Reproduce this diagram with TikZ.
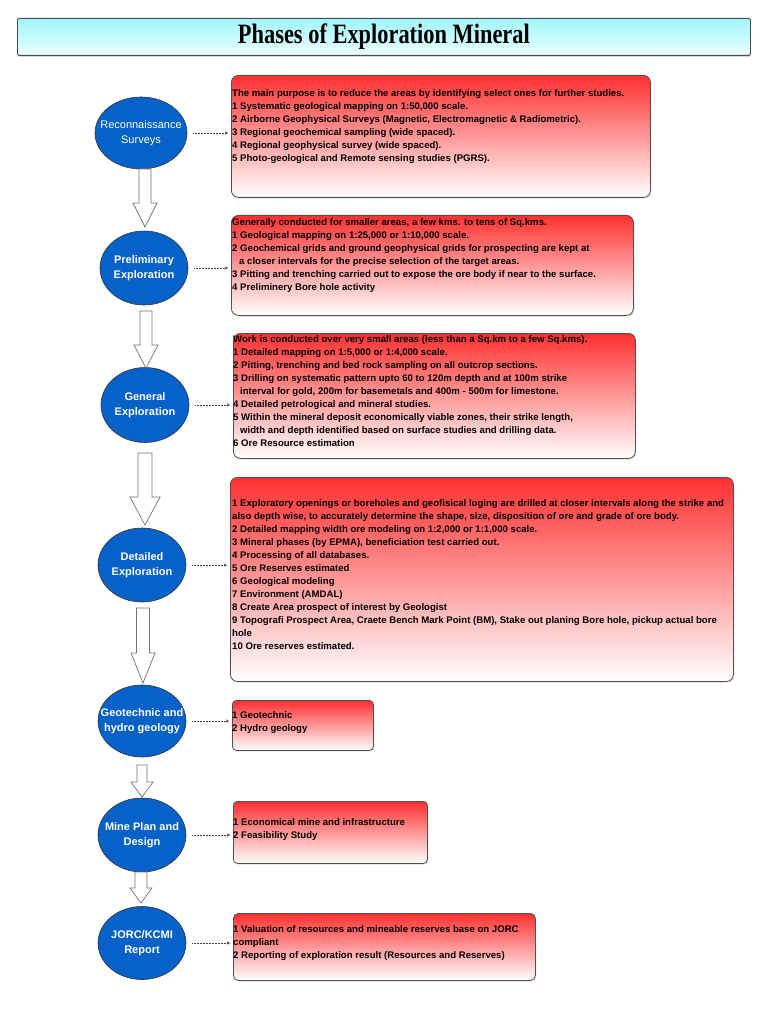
\documentclass[tikz,border=0pt]{standalone}
\usepackage{fontspec}
\setmainfont{Liberation Sans}
\newfontfamily\ttlfont{Liberation Serif}
\usetikzlibrary{shapes.geometric,shadows,calc,arrows.meta}
\definecolor{ellblue}{RGB}{6,98,200}
\definecolor{boxred}{RGB}{255,48,48}
\definecolor{titlecyan}{RGB}{160,246,252}
\definecolor{titlelight}{RGB}{236,255,255}
\definecolor{bordergray}{RGB}{80,80,80}
\newcommand\blkarrow[5]{% start, tip, shaft half width, head half width, head length
  \draw[blockarr] let \p1=(#1), \p2=(#2) in
  (\x2-#3pt,\y1) -- (\x2-#3pt,\y2+#5pt) -- (\x2-#4pt,\y2+#5pt) -- (\x2,\y2)
  -- (\x2+#4pt,\y2+#5pt) -- (\x2+#3pt,\y2+#5pt) -- (\x2+#3pt,\y1) -- cycle;}
\begin{document}
\begin{tikzpicture}[x=1pt,y=-1pt,
  ellip/.style={ellipse, fill=ellblue, draw=black!80, line width=0.6pt, inner sep=0pt},
  elab/.style={text=white, font=\fontsize{11}{15.5}\selectfont\bfseries, align=center, inner sep=0pt},
  rbox/.style={draw=bordergray, line width=0.8pt, rounded corners=7pt, top color=boxred, bottom color=white,
    anchor=north west, inner sep=0pt, drop shadow={opacity=0.25, shadow xshift=1pt, shadow yshift=-1.2pt}},
  btext/.style={anchor=north west, inner sep=0pt, align=left, font=\fontsize{9.6}{13}\selectfont\bfseries},
  dotarr/.style={densely dotted, draw=black!75, line width=0.5pt, -{Stealth[length=3pt,width=3pt]}},
  blockarr/.style={draw=black!55, fill=white, line width=0.7pt, line join=miter}
]
\useasboundingbox (0,0) rectangle (768,1024);
\fill[white] (0,0) rectangle (768,1024);

% title
\node[draw=black!70, line width=0.8pt, rounded corners=1.5pt, top color=titlecyan, bottom color=titlelight,
  minimum width=733pt, minimum height=37pt, anchor=north west, inner sep=0pt,
  drop shadow={opacity=0.3, shadow xshift=0.5pt, shadow yshift=-1.5pt}] (title) at (17,18)
  {\scalebox{0.8}[1]{\ttlfont\bfseries\fontsize{28}{30}\selectfont Phases of Exploration Mineral}};

% ellipses
\node[ellip, minimum width=92pt, minimum height=72pt] (e1) at (141,133) {};
\node[ellip, minimum width=88pt, minimum height=74pt] (e2) at (144,268) {};
\node[ellip, minimum width=88pt, minimum height=75pt] (e3) at (145,405) {};
\node[ellip, minimum width=88pt, minimum height=74pt] (e4) at (142,565) {};
\node[ellip, minimum width=88pt, minimum height=72pt] (e5) at (142,721) {};
\node[ellip, minimum width=88pt, minimum height=74pt] (e6) at (142,835) {};
\node[ellip, minimum width=88pt, minimum height=73pt] (e7) at (142,943) {};

\node[elab, font=\fontsize{11}{15.5}\selectfont\mdseries] (l1) at (e1.center) {Reconnaissance\\Surveys};
\node[elab] (l2) at (e2.center) {Preliminary\\Exploration};
\node[elab] (l3) at (e3.center) {General\\Exploration};
\node[elab] (l4) at (e4.center) {Detailed\\Exploration};
\node[elab] (l5) at (e5.center) {Geotechnic and\\hydro geology};
\node[elab] (l6) at (e6.center) {Mine Plan and\\Design};
\node[elab] (l7) at (e7.center) {JORC/KCMI\\Report};

% block arrows
\coordinate (a1s) at (145,169); \coordinate (a1t) at (145,227);
\coordinate (a2s) at (146,311); \coordinate (a2t) at (146,368);
\coordinate (a3s) at (145,453); \coordinate (a3t) at (145,525);
\coordinate (a4s) at (143,608); \coordinate (a4t) at (143,683);
\coordinate (a5s) at (142,765); \coordinate (a5t) at (142,797);
\coordinate (a6s) at (141,872); \coordinate (a6t) at (141,903);
\blkarrow{a1s}{a1t}{6}{12}{24}
\blkarrow{a2s}{a2t}{6}{12}{23}
\blkarrow{a3s}{a3t}{7}{15}{28}
\blkarrow{a4s}{a4t}{6.5}{12}{30}
\blkarrow{a5s}{a5t}{5}{11}{15}
\blkarrow{a6s}{a6t}{6}{11}{15}

% boxes
\node[rbox, minimum width=419pt, minimum height=122pt] (b1) at (231,75) {};
\node[rbox, minimum width=402pt, minimum height=100pt] (b2) at (231,215) {};
\node[rbox, minimum width=402pt, minimum height=125pt] (b3) at (233,333) {};
\node[rbox, minimum width=503pt, minimum height=204pt] (b4) at (230,477) {};
\node[rbox, minimum width=141pt, minimum height=50pt, rounded corners=4pt] (b5) at (232,700) {};
\node[rbox, minimum width=194pt, minimum height=62pt, rounded corners=4pt] (b6) at (233,801) {};
\node[rbox, minimum width=302pt, minimum height=67pt, rounded corners=5pt] (b7) at (233,913) {};

% box texts
\node[btext] (t1) at (232,89.5) {The main purpose is to reduce the areas by identifying select ones for further studies.\\
1 Systematic geological mapping on 1:50,000 scale.\\
2 Airborne Geophysical Surveys (Magnetic, Electromagnetic \& Radiometric).\\
3 Regional geochemical sampling (wide spaced).\\
4 Regional geophysical survey (wide spaced).\\
5 Photo-geological and Remote sensing studies (PGRS).};

\node[btext] (t2) at (232,218.5) {Generally conducted for smaller areas, a few kms. to tens of Sq.kms.\\
1 Geological mapping on 1:25,000 or 1:10,000 scale.\\
2 Geochemical grids and ground geophysical grids for prospecting are kept at\\
\hspace*{7pt}a closer intervals for the precise selection of the target areas.\\
3 Pitting and trenching carried out to expose the ore body if near to the surface.\\
4 Preliminery Bore hole activity};

\node[btext] (t3) at (233,335.5) {Work is conducted over very small areas (less than a Sq.km to a few Sq.kms).\\
1 Detailed mapping on 1:5,000 or 1:4,000 scale.\\
2 Pitting, trenching and bed rock sampling on all outcrop sections.\\
3 Drilling on systematic pattern upto 60 to 120m depth and at 100m strike\\
\hspace*{7pt}interval for gold, 200m for basemetals and 400m - 500m for limestone.\\
4 Detailed petrological and mineral studies.\\
5 Within the mineral deposit economically viable zones, their strike length,\\
\hspace*{7pt}width and depth identified based on surface studies and drilling data.\\
6 Ore Resource estimation};

\node[btext] (t4) at (232,499.5) {1 Exploratory openings or boreholes and geofisical loging are drilled at closer intervals along the strike and\\
also depth wise, to accurately determine the shape, size, disposition of ore and grade of ore body.\\
2 Detailed mapping width ore modeling on 1:2,000 or 1:1,000 scale.\\
3 Mineral phases (by EPMA), beneficiation test carried out.\\
4 Processing of all databases.\\
5 Ore Reserves estimated\\
6 Geological modeling\\
7 Environment (AMDAL)\\
8 Create Area prospect of interest by Geologist\\
9 Topografi Prospect Area, Craete Bench Mark Point (BM), Stake out planing Bore hole, pickup actual bore\\
hole\\
10 Ore reserves estimated.};

\node[btext] (t5) at (232,711.5) {1 Geotechnic\\2 Hydro geology};
\node[btext] (t6) at (233,818.5) {1 Economical mine and infrastructure\\2 Feasibility Study};
\node[btext] (t7) at (233,925.5) {1 Valuation of resources and mineable reserves base on JORC\\compliant\\
2 Reporting of exploration result (Resources and Reserves)};

% dotted connectors
\foreach \i in {1,...,7} {
  \draw[dotarr, shorten <=6pt, shorten >=3pt] (e\i.east) -- (e\i.east -| b\i.west);
}
\end{tikzpicture}
\end{document}
